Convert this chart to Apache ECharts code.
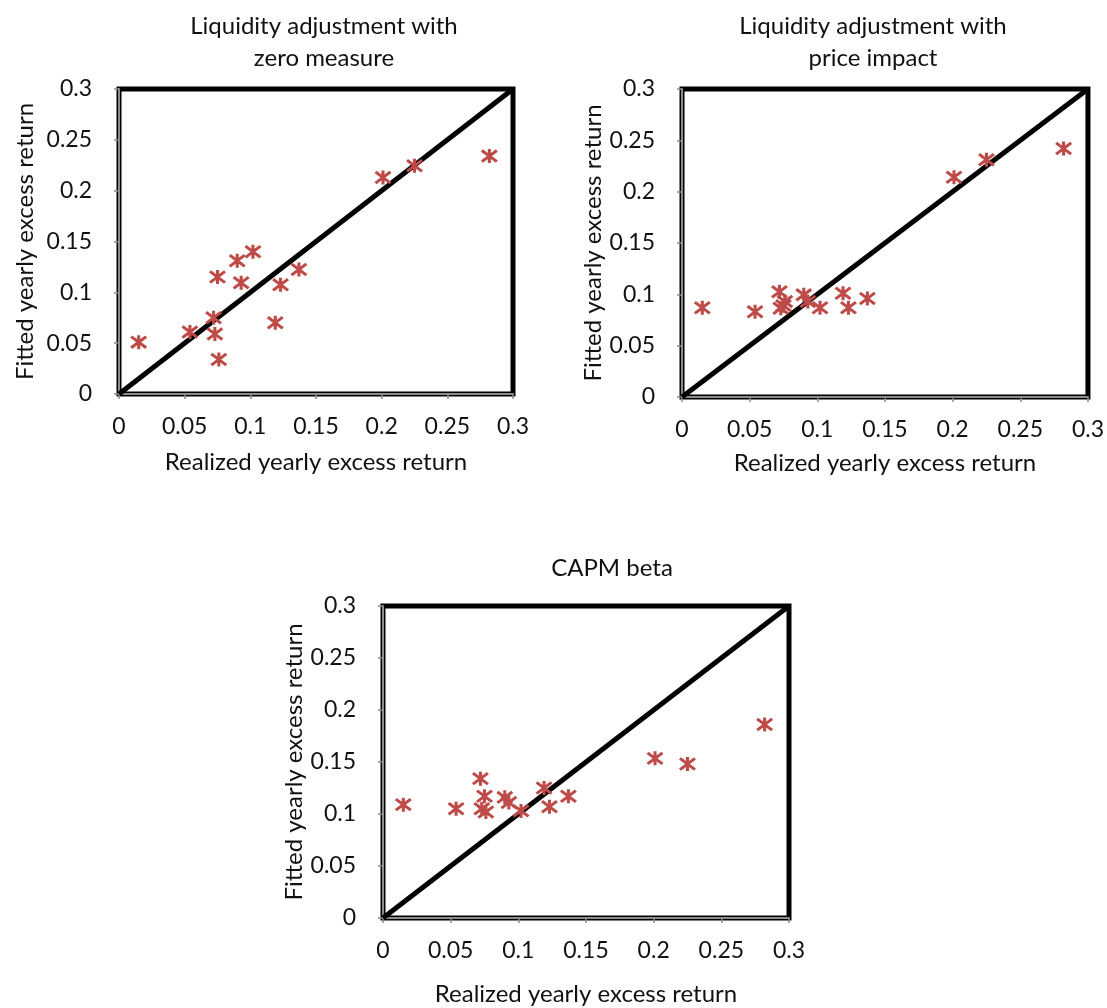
<!DOCTYPE html>
<html>
<head>
<meta charset="utf-8">
<script src="https://cdn.jsdelivr.net/npm/echarts@6/dist/echarts.min.js"></script>
<style>
  html, body { margin: 0; padding: 0; background: #fff; }
  #chart { width: 1107px; height: 1008px; }
</style>
</head>
<body>
<div id="chart"></div>
<script>
// realized returns (x), shared by the three panels
const realized = [0.015, 0.054, 0.072, 0.073, 0.075, 0.076, 0.090, 0.093, 0.102, 0.119, 0.123, 0.137, 0.201, 0.225, 0.282]
// fitted returns (y) per panel
const fittedZero = [0.051, 0.061, 0.075, 0.059, 0.115, 0.034, 0.131, 0.1095, 0.140, 0.070, 0.1075, 0.1225, 0.213, 0.2245, 0.234]
const fittedPrice = [0.087, 0.083, 0.1025, 0.0865, 0.089, 0.093, 0.0995, 0.093, 0.087, 0.101, 0.087, 0.096, 0.214, 0.231, 0.242]
const fittedCapm = [0.109, 0.105, 0.134, 0.105, 0.117, 0.102, 0.116, 0.111, 0.103, 0.125, 0.107, 0.117, 0.1535, 0.148, 0.186]
const diagonal = [[0, 0], [0.3, 0.3]]
const axisMin = 0
const axisMax = 0.3
const axisStep = 0.05

const panelTitles = [
  ['Liquidity adjustment with', 'zero measure'],
  ['Liquidity adjustment with', 'price impact'],
  ['CAPM beta']
]
const xName = 'Realized yearly excess return'
const yName = 'Fitted yearly excess return'

const FONT = 'Lato, "Open Sans", sans-serif'
const TXT = '#111'
const RED = '#BE4B48'

const panels = [
  { grid: { left: 119, top: 89, width: 394, height: 305 }, data: fittedZero, title: { x: 324, y: 26 }, yGap: 82, xGap: 56 },
  { grid: { left: 682, top: 89, width: 407, height: 308 }, data: fittedPrice, title: { x: 873, y: 26 }, yGap: 77, xGap: 54 },
  { grid: { left: 383, top: 606, width: 406, height: 312 }, data: fittedCapm, title: { x: 612, y: 568 }, yGap: 77, xGap: 64 }
]

const chart = echarts.init(document.getElementById('chart'))

const grid = panels.map(p => Object.assign({
  show: true, borderColor: '#000', borderWidth: 5, backgroundColor: 'transparent'
}, p.grid))

const axisCommon = {
  type: 'value',
  min: axisMin,
  max: axisMax,
  interval: axisStep,
  splitLine: { show: false },
  axisLine: { show: true, onZero: false, lineStyle: { color: '#8c8c8c', width: 2 } },
  axisTick: { show: true, inside: false, length: 5, lineStyle: { color: '#8c8c8c', width: 1.5 } },
  nameLocation: 'middle',
  nameTextStyle: { fontFamily: FONT, fontSize: 24, color: TXT }
}

const xAxis = panels.map((p, i) => Object.assign({}, axisCommon, {
  gridIndex: i,
  name: xName,
  nameGap: p.xGap,
  axisLabel: { margin: 21, fontFamily: FONT, fontSize: 23, color: TXT, showMinLabel: true, showMaxLabel: true }
}))

const yAxis = panels.map((p, i) => Object.assign({}, axisCommon, {
  gridIndex: i,
  name: yName,
  nameGap: p.yGap,
  axisLabel: { margin: 27, fontFamily: FONT, fontSize: 23, color: TXT, showMinLabel: true, showMaxLabel: true }
}))

const series = []
panels.forEach((p, i) => {
  series.push({
    type: 'line',
    xAxisIndex: i,
    yAxisIndex: i,
    data: diagonal,
    symbol: 'none',
    silent: true,
    lineStyle: { color: '#000', width: 5 },
    z: 2
  })
  series.push({
    type: 'scatter',
    xAxisIndex: i,
    yAxisIndex: i,
    data: realized.map((x, k) => [x, p.data[k]]),
    symbol: 'path://M0,1L10,9M10,1L0,9M5,0L5,10',
    symbolSize: [15, 14],
    itemStyle: { color: 'transparent', borderColor: RED, borderWidth: 3, opacity: 1 },
    z: 3
  })
})

// panel titles
const graphic = []
panels.forEach((p, i) => {
  panelTitles[i].forEach((line, k) => {
    graphic.push({
      type: 'text',
      x: p.title.x,
      y: p.title.y + k * 32,
      style: {
        text: line,
        font: '24px ' + FONT,
        fill: TXT,
        textAlign: 'center',
        textVerticalAlign: 'middle'
      }
    })
  })
})

chart.setOption({
  animation: false,
  grid,
  xAxis,
  yAxis,
  series,
  graphic
})
</script>
</body>
</html>
